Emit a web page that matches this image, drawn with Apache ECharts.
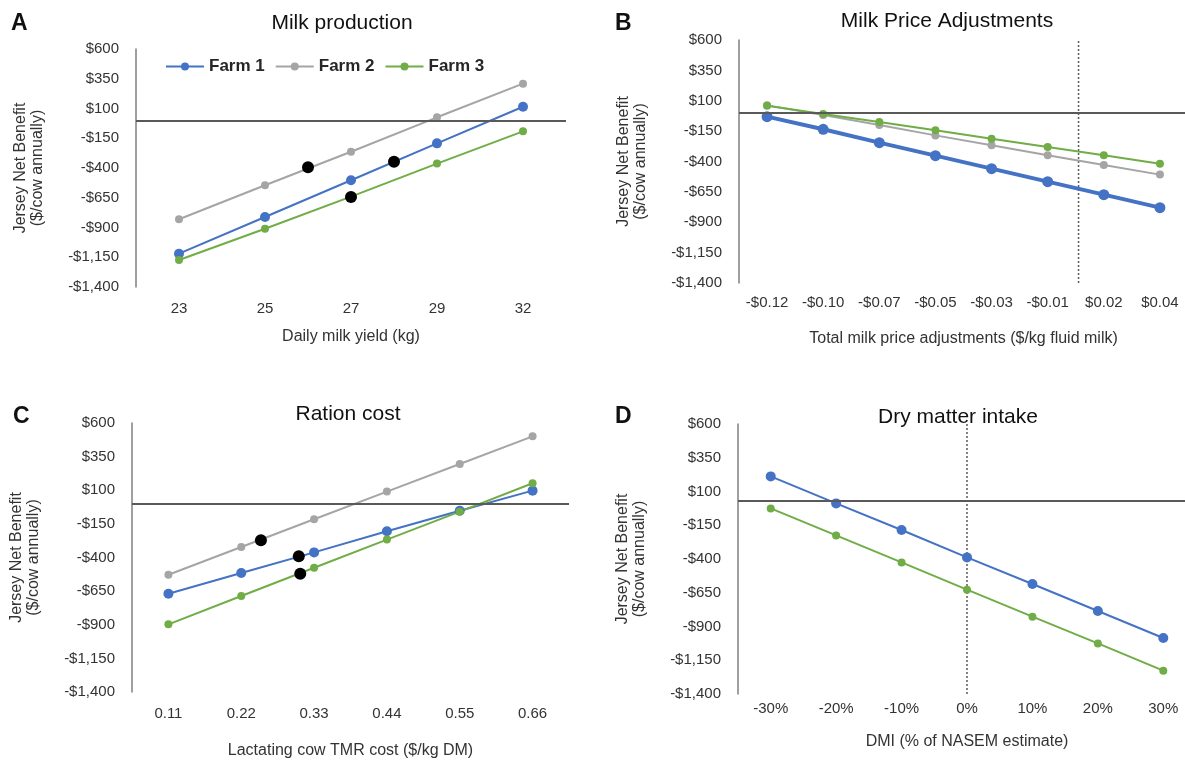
<!DOCTYPE html>
<html>
<head>
<meta charset="utf-8">
<title>Jersey Net Benefit</title>
<script src="https://cdn.jsdelivr.net/npm/echarts@6.0.0/dist/echarts.min.js"></script>
<style>
    html, body { margin: 0; padding: 0; background: #fff; }
    #main { width: 1185px; height: 764px; }
</style>
</head>
<body>
<div id="main"></div>
<script>
// y axis shared by the four panels ($/cow annually)
var yMin = -1400;
var yMax = 600;
var yStep = 250;

// A - milk production
var milkYield = ['23', '25', '27', '29', '32'];
var milkFarm1 = [-1120, -812, -503, -193, 115];
var milkFarm2 = [-831, -545, -263, 26, 309];
var milkFarm3 = [-1173, -910, -641, -363, -92];
var milkDots = [[1.5, -394], [2.5, -348], [2, -643]];   // [category position, value]

// B - milk price adjustments
var priceAdj = ['-$0.12', '-$0.10', '-$0.07', '-$0.05', '-$0.03', '-$0.01', '$0.02', '$0.04'];
var priceFarm1 = [-31, -135, -245, -352, -459, -566, -673, -780];
var priceFarm2 = [62, -18, -100, -185, -267, -349, -429, -508];
var priceFarm3 = [59, -9, -75, -143, -212, -281, -349, -418];
var priceRef = 5.55;

// C - ration cost
var tmrCost = ['0.11', '0.22', '0.33', '0.44', '0.55', '0.66'];
var tmrFarm1 = [-669, -515, -362, -205, -52, 97];
var tmrFarm2 = [-528, -322, -116, 90, 295, 501];
var tmrFarm3 = [-897, -686, -476, -267, -59, 152];
var tmrDots = [[1.27, -272], [1.79, -391], [1.81, -520]];

// D - dry matter intake
var dmi = ['-30%', '-20%', '-10%', '0%', '10%', '20%', '30%'];
var dmiFarm1 = [212, 12, -185, -388, -585, -785, -985];
var dmiFarm3 = [-25, -225, -425, -627, -827, -1025, -1227];
var dmiRef = 3;

var zeroLevel = [0, 0, 0, 30];

var blue = '#4472C4', grey = '#A5A5A5', green = '#70AD47';
var font = 'Liberation Sans, Arial, sans-serif';

// the axis starts at 0 so that the 250 step lands on -1400
function shift(arr) {
    return arr.map(function (v) { return v - yMin; });
}
function shiftPts(arr) {
    return arr.map(function (p) { return [p[0], p[1] - yMin]; });
}
function money(v) {
    var x = Math.round(v + yMin);
    var s = String(Math.abs(x)).replace(/\B(?=(\d{3})+(?!\d))/g, ',');
    return (x < 0 ? '-$' : '$') + s;
}

function farmLine(name, g, data, color, size, width) {
    return {
        name: name,
        type: 'line',
        xAxisIndex: g,
        yAxisIndex: g,
        data: shift(data),
        symbol: 'circle',
        symbolSize: size,
        lineStyle: {color: color, width: width},
        itemStyle: {color: color},
        animation: false
    };
}
function zeroLine(g) {
    return {
        symbol: 'none',
        silent: true,
        label: {show: false},
        lineStyle: {color: '#595959', width: 2, type: 'solid'},
        data: [{yAxis: zeroLevel[g] - yMin}]
    };
}
function dots(g, data) {
    return {
        type: 'scatter',
        xAxisIndex: g + 4,
        yAxisIndex: g,
        data: shiftPts(data),
        symbolSize: 12,
        itemStyle: {color: '#000', opacity: 1},
        z: 5,
        animation: false
    };
}
function refLine(g, pos) {
    return {
        type: 'line',
        xAxisIndex: g + 4,
        yAxisIndex: g,
        data: [[pos, 0], [pos, yMax - yMin]],
        symbol: 'none',
        lineStyle: {color: '#595959', width: 1.5, type: [2, 2]},
        z: 1,
        animation: false
    };
}

var grids = [
    {left: 136, top: 49, width: 430, height: 238},
    {left: 739, top: 40, width: 449, height: 243},
    {left: 132, top: 423, width: 437, height: 269},
    {left: 738, top: 424, width: 458, height: 270}
];
var cats = [milkYield, priceAdj, tmrCost, dmi];
var xNames = ['Daily milk yield (kg)', 'Total milk price adjustments ($/kg fluid milk)',
    'Lactating cow TMR cost ($/kg DM)', 'DMI (% of NASEM estimate)'];
var labelMargin = [14, 12, 14, 7];
var nameGapX = [42, 48, 51, 40];

var xAxes = [], yAxes = [];
for (var g = 0; g < 4; g++) {
    grids[g].containLabel = false;
    grids[g].outerBoundsMode = 'none';
    xAxes.push({
        type: 'category',
        gridIndex: g,
        data: cats[g],
        boundaryGap: true,
        axisLine: {show: false},
        axisTick: {show: false},
        axisLabel: {margin: labelMargin[g], fontSize: 15, color: '#333', fontFamily: font},
        name: xNames[g],
        nameLocation: 'middle',
        nameGap: nameGapX[g],
        nameTextStyle: {fontSize: 16, color: '#333', fontFamily: font}
    });
    yAxes.push({
        type: 'value',
        gridIndex: g,
        min: 0,
        max: yMax - yMin,
        interval: yStep,
        axisLine: {show: true, onZero: false, lineStyle: {color: '#7f7f7f', width: 1.5}},
        axisTick: {show: false},
        splitLine: {show: false},
        axisLabel: {margin: 17, fontSize: 15, color: '#333', fontFamily: font, formatter: money},
        name: 'Jersey Net Benefit\n($/cow annually)',
        nameLocation: 'middle',
        nameRotate: 90,
        nameGap: 90,
        nameTextStyle: {fontSize: 16, lineHeight: 17, color: '#333', fontFamily: font}
    });
}
// hidden value axes lined up with the categories, for the dots and dotted lines
for (var h = 0; h < 4; h++) {
    xAxes.push({type: 'value', gridIndex: h, min: -0.5, max: cats[h].length - 0.5, show: false});
}

function panelTitle(text, x, y) {
    return {text: text, left: x, top: y, textAlign: 'center', padding: 0,
        textStyle: {fontSize: 21, fontWeight: 'normal', color: '#111', fontFamily: font}};
}
function panelLetter(text, x, y) {
    return {text: text, left: x, top: y, padding: 0,
        textStyle: {fontSize: 23, fontWeight: 'bold', color: '#111', fontFamily: font}};
}

var a1 = farmLine('Farm 1', 0, milkFarm1, blue, 10, 2);
a1.markLine = zeroLine(0);
var b1 = farmLine('Farm 1', 1, priceFarm1, blue, 11, 4);
b1.markLine = zeroLine(1);
var c1 = farmLine('Farm 1', 2, tmrFarm1, blue, 10, 2);
c1.markLine = zeroLine(2);
var d1 = farmLine('Farm 1', 3, dmiFarm1, blue, 10, 2);
d1.markLine = zeroLine(3);

var myChart = echarts.init(document.getElementById('main'));
var option = {
    backgroundColor: '#fff',
    animation: false,
    textStyle: {fontFamily: font},
    title: [
        panelTitle('Milk production', 342, 13),
        panelTitle('Milk Price Adjustments', 947, 11),
        panelTitle('Ration cost', 348, 404),
        panelTitle('Dry matter intake', 958, 407),
        panelLetter('A', 11, 12),
        panelLetter('B', 615, 12),
        panelLetter('C', 13, 405),
        panelLetter('D', 615, 405)
    ],
    legend: {
        data: ['Farm 1', 'Farm 2', 'Farm 3'],
        left: 165,
        top: 58,
        padding: 0,
        itemWidth: 38,
        itemHeight: 10,
        itemGap: 10,
        textStyle: {fontSize: 17, fontWeight: 'bold', color: '#262626', fontFamily: font}
    },
    grid: grids,
    xAxis: xAxes,
    yAxis: yAxes,
    series: [
        a1,
        farmLine('Farm 2', 0, milkFarm2, grey, 8, 2),
        farmLine('Farm 3', 0, milkFarm3, green, 8, 2),
        dots(0, milkDots),

        refLine(1, priceRef),
        b1,
        farmLine('Farm 2', 1, priceFarm2, grey, 8, 2),
        farmLine('Farm 3', 1, priceFarm3, green, 8, 2),

        c1,
        farmLine('Farm 2', 2, tmrFarm2, grey, 8, 2),
        farmLine('Farm 3', 2, tmrFarm3, green, 8, 2),
        dots(2, tmrDots),

        refLine(3, dmiRef),
        d1,
        farmLine('Farm 3', 3, dmiFarm3, green, 8, 2)
    ]
};
myChart.setOption(option);
</script>
</body>
</html>
